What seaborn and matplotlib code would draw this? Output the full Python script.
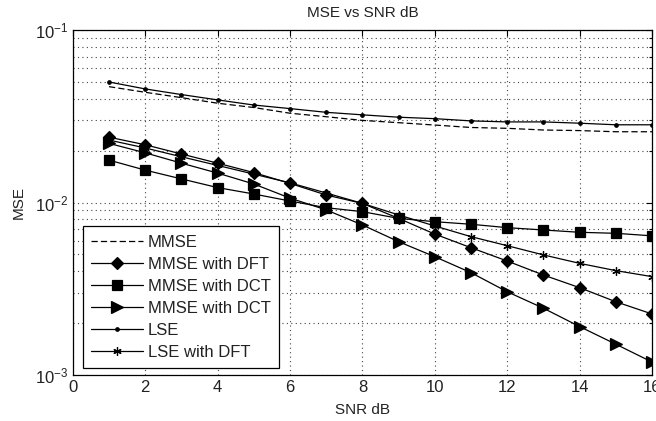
"""MSE vs SNR dB comparison of channel estimators."""

import matplotlib
matplotlib.use("Agg")
import matplotlib.pyplot as plt
import seaborn as sns
from matplotlib.ticker import LogLocator, MultipleLocator, NullFormatter

snr_db = [1, 2, 3, 4, 5, 6, 7, 8, 9, 10, 11, 12, 13, 14, 15, 16]

mmse = [0.0469, 0.0435, 0.0405, 0.0376, 0.0355, 0.0329, 0.0314, 0.0299,
        0.0290, 0.0281, 0.0272, 0.0269, 0.0263, 0.0261, 0.0257, 0.0257]
mmse_dft = [0.0239, 0.0216, 0.0191, 0.0169, 0.0149, 0.0129, 0.01105, 0.00988,
            0.00809, 0.00656, 0.00547, 0.00458, 0.00380, 0.00321, 0.00266, 0.00226]
mmse_dct_sq = [0.0176, 0.0154, 0.0137, 0.0122, 0.0112, 0.0102, 0.00933, 0.00885,
               0.00809, 0.00774, 0.00748, 0.00715, 0.00693, 0.00672, 0.00663, 0.00641]
mmse_dct_tri = [0.0220, 0.0194, 0.0169, 0.0148, 0.0128, 0.0106, 0.00906, 0.00741,
                0.00593, 0.00485, 0.00392, 0.00304, 0.00244, 0.00191, 0.00151, 0.00119]
lse = [0.0499, 0.0455, 0.0422, 0.0393, 0.0367, 0.0350, 0.0333, 0.0322,
       0.0312, 0.0306, 0.0297, 0.0293, 0.0293, 0.0288, 0.0282, 0.0282]
lse_dft = [0.0230, 0.0207, 0.0184, 0.0164, 0.0146, 0.0130, 0.01135, 0.00988,
           0.00847, 0.00731, 0.00634, 0.00562, 0.00497, 0.00444, 0.00403, 0.00372]

# label, values, line style, marker, marker size
SERIES = (
    ("MMSE", mmse, (0, (5, 2.5)), None, 0),
    ("MMSE with DFT", mmse_dft, "-", "D", 6.5),
    ("MMSE with DCT", mmse_dct_sq, "-", "s", 7),
    ("MMSE with DCT", mmse_dct_tri, "-", ">", 8),
    ("LSE", lse, "-", "o", 2.5),
    ("LSE with DFT", lse_dft, "-", (6, 2, 0), 6),
)

sns.set_style("white")
plt.rcParams["font.family"] = ["Liberation Sans", "DejaVu Sans"]
plt.rcParams["mathtext.fontset"] = "custom"
plt.rcParams["mathtext.rm"] = "Liberation Sans"
plt.rcParams["mathtext.it"] = "Liberation Sans"
text_color = "#222222"

fig, ax = plt.subplots(figsize=(6.56, 4.21), dpi=100)
fig.subplots_adjust(left=0.111, right=0.994, top=0.929, bottom=0.109)

for label, values, style, marker, size in SERIES:
    kws = {}
    if marker is not None:
        kws = dict(marker=marker, markersize=size, markerfacecolor="black",
                   markeredgecolor="black", markeredgewidth=0.9)
    sns.lineplot(x=snr_db, y=values, ax=ax, color="black", linewidth=0.9,
                 linestyle=style, label=label, **kws)

ax.set_yscale("log")
ax.set_xlim(0, 16)
ax.set_ylim(1e-3, 1e-1)
ax.xaxis.set_major_locator(MultipleLocator(2))
ax.yaxis.set_major_locator(LogLocator(base=10))
ax.yaxis.set_minor_locator(LogLocator(base=10, subs=range(2, 10)))
ax.yaxis.set_minor_formatter(NullFormatter())

ax.grid(True, which="major", axis="both", color="#444444", linestyle=(0, (1, 3)), linewidth=0.8)
ax.grid(True, which="minor", axis="y", color="#444444", linestyle=(0, (1, 3)), linewidth=0.8)

ax.tick_params(which="both", direction="in", top=True, right=True, colors="black",
               labelcolor=text_color, labelsize=12, width=0.8)
ax.tick_params(which="major", length=4)
ax.tick_params(which="minor", length=2.5)
for spine in ax.spines.values():
    spine.set_color("black")
    spine.set_linewidth(0.9)

ax.set_title("MSE vs SNR dB", fontsize=11, color=text_color, pad=9)
ax.set_xlabel("SNR dB", fontsize=11, color=text_color, labelpad=6)
ax.set_ylabel("MSE", fontsize=11, color=text_color, labelpad=6)

legend = ax.legend(loc="lower left", bbox_to_anchor=(10 / 579, 7 / 345), borderaxespad=0,
                   fontsize=12, frameon=True, fancybox=False, edgecolor="black",
                   handlelength=3.1, handletextpad=0.3, labelspacing=0.42, borderpad=0.5)
legend.get_frame().set_linewidth(0.9)
legend.get_frame().set_alpha(1)
for text in legend.get_texts():
    text.set_color(text_color)

fig.savefig("out.png", dpi=100)
plt.close(fig)
